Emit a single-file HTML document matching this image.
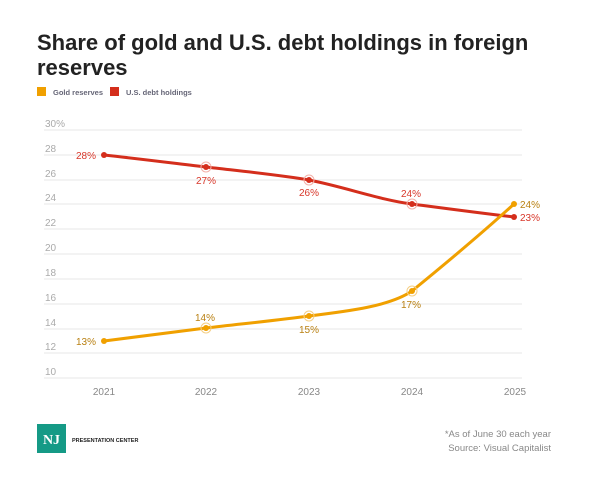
<!DOCTYPE html>
<html><head><style>
body{margin:0;background:#fff;width:600px;height:474px;overflow:hidden;font-family:"Liberation Sans",sans-serif}
</style></head><body>
<svg width="600" height="474" xmlns="http://www.w3.org/2000/svg" font-family="Liberation Sans, sans-serif">
<text x="37" y="50" font-size="22" font-weight="bold" fill="#222">Share of gold and U.S. debt holdings in foreign</text>
<text x="37" y="75" font-size="22" font-weight="bold" fill="#222">reserves</text>
<rect x="37" y="87" width="9" height="9" fill="#f0a000"/>
<text x="53" y="95" font-size="7.5" font-weight="bold" fill="#667">Gold reserves</text>
<rect x="110" y="87" width="9" height="9" fill="#d42e1c"/>
<text x="126" y="95" font-size="7.5" font-weight="bold" fill="#667">U.S. debt holdings</text>
<g stroke="#ececec" stroke-width="1.2">
<line x1="44" x2="522" y1="130" y2="130"/><line x1="44" x2="522" y1="155" y2="155"/>
<line x1="44" x2="522" y1="180" y2="180"/><line x1="44" x2="522" y1="204" y2="204"/>
<line x1="44" x2="522" y1="229" y2="229"/><line x1="44" x2="522" y1="254" y2="254"/>
<line x1="44" x2="522" y1="279" y2="279"/><line x1="44" x2="522" y1="304" y2="304"/>
<line x1="44" x2="522" y1="329" y2="329"/><line x1="44" x2="522" y1="353" y2="353"/>
<line x1="44" x2="522" y1="378" y2="378"/>
</g>
<g font-size="10" fill="#aaa">
<text x="45" y="127">30%</text><text x="45" y="152">28</text><text x="45" y="177">26</text>
<text x="45" y="201">24</text><text x="45" y="226">22</text><text x="45" y="251">20</text>
<text x="45" y="276">18</text><text x="45" y="301">16</text><text x="45" y="326">14</text>
<text x="45" y="350">12</text><text x="45" y="375">10</text>
</g>
<g font-size="10" fill="#888" text-anchor="middle">
<text x="104" y="395">2021</text><text x="206" y="395">2022</text><text x="309" y="395">2023</text>
<text x="412" y="395">2024</text><text x="515" y="395">2025</text>
</g>
<path d="M104,155 C150,160 180,164 206,167 C240,171 280,175 309,180 C345,187 380,200 412,204 C450,209 480,213 514,217" fill="none" stroke="#d42e1c" stroke-width="3"/>
<path d="M104,341 C150,335 180,331 206,328 C240,324 280,320 309,316 C350,311 390,306 412,291 C450,260 480,235 514,204" fill="none" stroke="#f0a000" stroke-width="3"/>
<g fill="#d42e1c"><circle cx="104" cy="155" r="3"/><circle cx="206" cy="167" r="3"/><circle cx="309" cy="180" r="3"/><circle cx="412" cy="204" r="3"/><circle cx="514" cy="217" r="3"/></g>
<g fill="none" stroke="#f3b0a8"><circle cx="206" cy="167" r="5"/><circle cx="309" cy="180" r="5"/><circle cx="412" cy="204" r="5"/></g>
<g fill="#f0a000"><circle cx="104" cy="341" r="3"/><circle cx="206" cy="328" r="3"/><circle cx="309" cy="316" r="3"/><circle cx="412" cy="291" r="3"/><circle cx="514" cy="204" r="3"/></g>
<g fill="none" stroke="#f5cf85"><circle cx="206" cy="328" r="5"/><circle cx="309" cy="316" r="5"/><circle cx="412" cy="291" r="5"/></g>
<g font-size="10" fill="#d8372a">
<text x="76" y="159">28%</text><text x="196" y="184">27%</text><text x="299" y="196">26%</text>
<text x="401" y="197">24%</text><text x="520" y="221">23%</text>
</g>
<g font-size="10" fill="#b98012">
<text x="76" y="345">13%</text><text x="195" y="321">14%</text><text x="299" y="333">15%</text>
<text x="401" y="308">17%</text><text x="520" y="208">24%</text>
</g>
<rect x="37" y="424" width="29" height="29" fill="#159a86"/>
<text x="51.5" y="444" font-size="14" font-weight="bold" fill="#fff" text-anchor="middle" font-family="Liberation Serif, serif">NJ</text>
<text x="72" y="442" font-size="5.5" font-weight="bold" fill="#222">PRESENTATION CENTER</text>
<g font-size="9.5" fill="#888" text-anchor="end">
<text x="551" y="437">*As of June 30 each year</text>
<text x="551" y="451">Source: Visual Capitalist</text>
</g>
</svg>
</body></html>
